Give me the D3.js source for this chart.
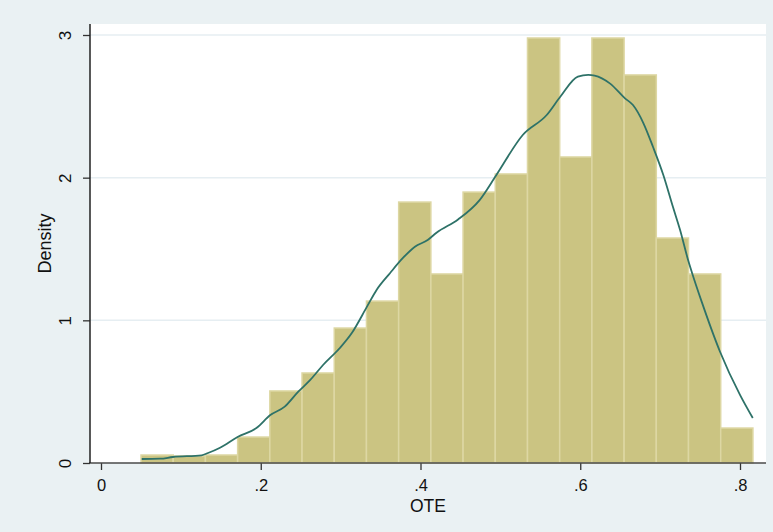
<!DOCTYPE html>
<html>
<head>
<meta charset="utf-8">
<script src="https://cdn.jsdelivr.net/npm/d3@7"></script>
<style>
  html, body { margin: 0; padding: 0; background: #eaf1f3; }
  svg { display: block; }
</style>
</head>
<body>
<svg id="chart" width="773" height="532"></svg>
<script>
// ---- data ----
const binStart = 0.0501;
const binWidth = 0.04032;
const binDensity = [0.056, 0.049, 0.056, 0.182, 0.505, 0.631, 0.946, 1.135, 1.829, 1.325,
                    1.899, 2.026, 2.979, 2.145, 2.979, 2.720, 1.577, 1.325, 0.245];
const kdeX = [0.051, 0.074, 0.090, 0.126, 0.134, 0.149, 0.171, 0.195, 0.212, 0.230, 0.247,
              0.262, 0.278, 0.299, 0.314, 0.333, 0.345, 0.362, 0.378, 0.393, 0.409, 0.420,
              0.447, 0.474, 0.495, 0.528, 0.558, 0.575, 0.597, 0.610, 0.618, 0.637, 0.656,
              0.666, 0.679, 0.691, 0.704, 0.716, 0.725, 0.735, 0.740, 0.752, 0.775, 0.800, 0.816];
const kdeY = [0.028, 0.030, 0.042, 0.054, 0.070, 0.107, 0.182, 0.247, 0.336, 0.395, 0.500,
              0.582, 0.687, 0.806, 0.911, 1.096, 1.213, 1.332, 1.437, 1.516, 1.563, 1.614,
              1.707, 1.843, 2.019, 2.299, 2.439, 2.567, 2.708, 2.720, 2.715, 2.661, 2.556,
              2.509, 2.383, 2.217, 2.019, 1.796, 1.633, 1.423, 1.332, 1.131, 0.780, 0.477, 0.315];
const xTicks = [0, 0.2, 0.4, 0.6, 0.8];
const xTickLabels = ["0", ".2", ".4", ".6", ".8"];
const yTicks = [0, 1, 2, 3];
const xTitle = "OTE";
const yTitle = "Density";

// ---- layout ----
const FONT = "Liberation Sans, Arial, sans-serif";
const svg = d3.select("#chart");
const plot = { left: 90, right: 766, top: 24, bottom: 463 };
const x = d3.scaleLinear().domain([0, 0.8]).range([101, 740]);
const y = d3.scaleLinear().domain([0, 3]).range([463, 35]);

svg.append("rect").attr("x", 0).attr("y", 0).attr("width", 773).attr("height", 532).attr("fill", "#eaf1f3");
svg.append("rect").attr("x", plot.left).attr("y", plot.top)
  .attr("width", plot.right - plot.left).attr("height", plot.bottom - plot.top).attr("fill", "#ffffff");

// gridlines
svg.append("g").selectAll("line").data(yTicks.filter(d => d > 0)).join("line")
  .attr("x1", plot.left).attr("x2", plot.right)
  .attr("y1", d => y(d)).attr("y2", d => y(d))
  .attr("stroke", "#e6eef2").attr("stroke-width", 1.5);

// bars
const bins = binDensity.map((d, i) => ({ x0: binStart + i * binWidth, x1: binStart + (i + 1) * binWidth, d }));
svg.append("g").selectAll("rect").data(bins).join("rect")
  .attr("x", b => x(b.x0))
  .attr("width", b => x(b.x1) - x(b.x0))
  .attr("y", b => y(b.d))
  .attr("height", b => y(0) - y(b.d))
  .attr("fill", "#cbc482")
  .attr("stroke", "#ddd7a3")
  .attr("stroke-width", 1.5);

// kde line
const line = d3.line().x((d, i) => x(kdeX[i])).y((d, i) => y(kdeY[i])).curve(d3.curveMonotoneX);
svg.append("path").datum(kdeY).attr("d", line)
  .attr("fill", "none").attr("stroke", "#2e7268").attr("stroke-width", 1.8);

// axes
const xAxis = d3.axisBottom(x).tickValues(xTicks).tickFormat((d, i) => xTickLabels[i]).tickSize(7).tickPadding(9);
const gx = svg.append("g").attr("transform", `translate(0,${plot.bottom})`).call(xAxis);
gx.select(".domain").remove();
gx.append("line").attr("x1", plot.left - 1).attr("x2", plot.right).attr("y1", 0).attr("y2", 0)
  .attr("stroke", "#4a4a4a").attr("stroke-width", 1.6);
gx.selectAll(".tick line").attr("stroke", "#333").attr("stroke-width", 1.3);
gx.selectAll(".tick text").attr("font-family", FONT)
  .attr("font-size", 16.5).attr("fill", "#111");

const yAxis = d3.axisLeft(y).tickValues(yTicks).tickFormat(d3.format("d")).tickSize(7).tickPadding(0);
const gy = svg.append("g").attr("transform", `translate(${plot.left},0)`).call(yAxis);
gy.select(".domain").remove();
gy.append("line").attr("x1", 0).attr("x2", 0).attr("y1", plot.top).attr("y2", plot.bottom)
  .attr("stroke", "#222").attr("stroke-width", 1.5);
gy.selectAll(".tick line").attr("stroke", "#333").attr("stroke-width", 1.3);
gy.selectAll(".tick text")
  .attr("font-family", FONT).attr("font-size", 17).attr("fill", "#111")
  .attr("x", null)
  .attr("text-anchor", "middle")
  .attr("transform", "translate(-25,0) rotate(-90)")
  .attr("dy", "0.35em");

// titles
svg.append("text").attr("x", (plot.left + plot.right) / 2).attr("y", 512)
  .attr("text-anchor", "middle").attr("font-family", FONT)
  .attr("font-size", 17.5).attr("fill", "#111").text(xTitle);
svg.append("text").attr("transform", `translate(45,${(plot.top + plot.bottom) / 2}) rotate(-90)`)
  .attr("text-anchor", "middle").attr("dy", "0.35em").attr("font-family", FONT)
  .attr("font-size", 18).attr("fill", "#111").text(yTitle);
</script>
</body>
</html>
